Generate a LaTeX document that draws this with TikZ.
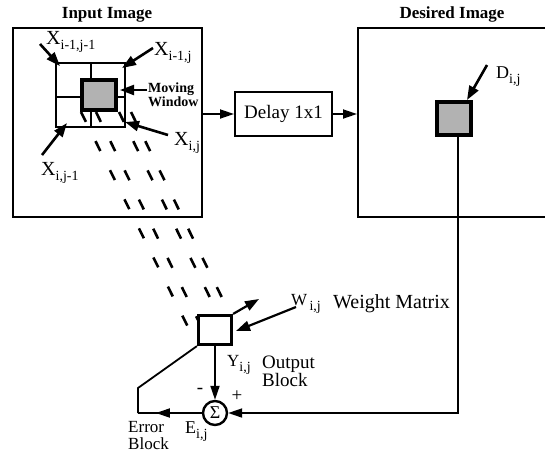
\documentclass[tikz,border=0pt]{standalone}
\usepackage{fontspec}
\setmainfont{Liberation Serif}
\usetikzlibrary{arrows.meta,decorations.markings}
\newcommand{\lblsub}[3]{{\fontsize{#3}{#3}\selectfont #1}\raisebox{-5pt}{\fontsize{14}{14}\selectfont #2}}
\begin{document}
\begin{tikzpicture}[x=1pt,y=-1pt,
  box/.style={draw,line width=2pt,inner sep=0pt},
  shaded/.style={draw,line width=4pt,fill=black!30,inner sep=0pt},
  tip/.style={-{Triangle[length=14pt,width=9pt]}},
  larr/.style={line width=2.6pt,-{Triangle[length=14pt,width=10pt]}},
  conn/.style={line width=1.8pt},
  lbl/.style={inner sep=0pt,anchor=north west},
  txt/.style={inner sep=0pt,font=\fontsize{19}{19}\selectfont},
  ttl/.style={inner sep=0pt,anchor=base,font=\bfseries\fontsize{17}{17}\selectfont},
  projline/.style={line width=2.6pt,dash pattern=on 11pt off 21.5pt}
]
\useasboundingbox (0,0) rectangle (545,459);
\clip (0,0) rectangle (545,459);

% titles
\node[ttl] (intitle) at (107,18) {Input Image};
\node[ttl] (destitle) at (452,18) {Desired Image};

% input image box
\node[box,line width=2.4pt,minimum width=189pt,minimum height=189pt] (inbox) at (107.5,122.5) {};

% grid of pixels
\draw[line width=1.9pt] (56,63) rectangle (125,127);
\draw[line width=1.9pt] (91,63) -- (91,127);
\draw[line width=1.9pt] (56,97) -- (125,97);

% projection lines toward the output block
\draw[projline] (81,112) -- (188,327);
\draw[projline] (96,112) -- (198,320);
\draw[projline] (119,112) -- (218,314);
\draw[projline] (131,112) -- (230,314);

% moving window
\node[shaded,minimum width=34pt,minimum height=30pt] (win) at (99,95) {};

% labels around the window
\node[lbl] (xa) at (46,31) {\lblsub{X}{i-1,j-1}{20}};
\node[lbl] (xb) at (154,42) {\lblsub{X}{i-1,j}{20}};
\node[lbl] (xc) at (174,132) {\lblsub{X}{i,j}{20}};
\node[lbl] (xd) at (41,162) {\lblsub{X}{i,j-1}{20}};
\node[lbl,align=left,font=\bfseries\fontsize{14}{14}\selectfont] (mw) at (148,83) {Moving\\Window};

\coordinate (sa) at (40,44);  \coordinate (ta) at (60,66);
\coordinate (sb) at (153,48); \coordinate (tb) at (122,68);
\coordinate (sc) at (168,135);\coordinate (tc) at (125,122);
\coordinate (sd) at (42,155); \coordinate (td) at (67,123);
\coordinate (sm) at (147,90); \coordinate (tm) at (120,90);
\draw[larr] (sa) -- (ta);
\draw[larr] (sb) -- (tb);
\draw[larr] (sc) -- (tc);
\draw[larr] (sd) -- (td);
\draw[larr,line width=2.2pt] (sm) -- (tm);

% delay
\node[box,minimum width=97pt,minimum height=44pt,font=\fontsize{19}{19}\selectfont] (delay) at (283.5,114) {Delay 1x1};

% desired image box
\node[box,minimum width=192pt,minimum height=189pt] (desbox) at (454,122.5) {};
\node[shaded,minimum width=34pt,minimum height=33pt] (dblk) at (454,118.5) {};
\node[lbl] (dl) at (496,67) {\lblsub{D}{i,j}{18}};
\coordinate (sD) at (487,65); \coordinate (tD) at (467,100);
\draw[larr] (sD) -- (tD);

\draw[conn,tip] (delay.west -| inbox.east) -- (delay.west);
\draw[conn,tip] (delay.east) -- (delay.east -| desbox.west);

% output block
\node[draw,line width=3.2pt,fill=white,inner sep=0pt,minimum width=33pt,minimum height=29pt] (outblk) at (215,330) {};
\node[lbl] (wl) at (291,294) {\lblsub{W}{\,i,j}{17}};
\node[lbl,font=\fontsize{20}{20}\selectfont] (wm) at (333,294) {Weight Matrix};
\coordinate (sW) at (296,307); \coordinate (tW) at (236,331);
\draw[larr,line width=2.2pt] (sW) -- (tW);
\coordinate (cw) at (259,299);
\draw[larr,line width=2.2pt] (outblk.north east) -- (cw);

\node[lbl] (yl) at (227,355) {\lblsub{Y}{i,j}{17}};
\node[lbl,align=left,font=\fontsize{19}{18}\selectfont] (ob) at (262,356) {Output\\Block};

% summation
\node[draw,circle,line width=2.4pt,minimum size=24pt,inner sep=0pt,font=\fontsize{18}{18}\selectfont] (sig) at (215,413) {Σ};
\node[txt] (minus) at (200,391) {-};
\node[txt] (plus) at (237,396) {+};

\draw[conn,tip] (outblk.south) -- (sig.north);
\coordinate (dturn) at ([xshift=4pt]dblk.south |- sig.east);
\draw[conn,tip] ([xshift=4pt]dblk.south) -- (dturn) -- (sig.east);

\coordinate (fb1) at (138,413);
\coordinate (fb2) at (138,388);
\draw[conn,decoration={markings,mark=at position 0.72 with {\arrow{Triangle[length=14pt,width=9pt]}}},postaction={decorate}] (sig.west) -- (fb1);
\draw[conn] (fb1) -- (fb2) -- (outblk.south west);

\node[lbl,align=left,font=\fontsize{17}{17}\selectfont] (eb) at (128,421) {Error\\Block};
\node[lbl] (el) at (185,422) {\lblsub{E}{i,j}{18}};
\end{tikzpicture}
\end{document}
